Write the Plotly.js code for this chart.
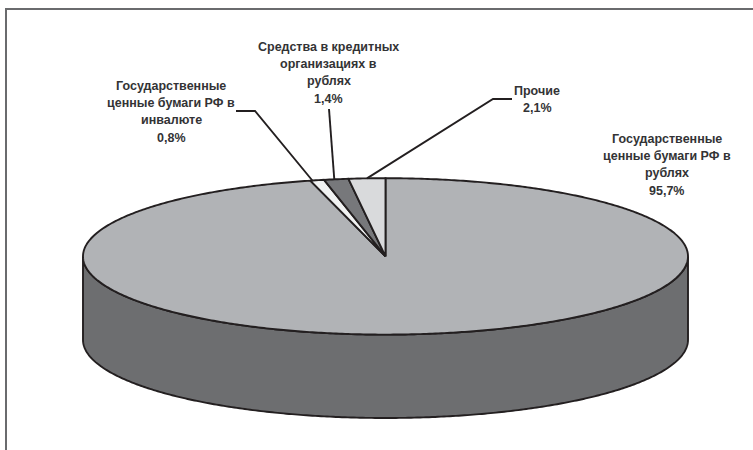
<!DOCTYPE html>
<html><head><meta charset="utf-8">
<script src="https://cdn.plot.ly/plotly-3.0.1.min.js"></script>
<style>html,body{margin:0;padding:0;background:#fff}#c{width:753px;height:450px}</style>
</head><body><div id="c"></div>
<script>
// Data, clockwise from 12 o'clock
const categories = ['Государственные ценные бумаги РФ в рублях','Государственные ценные бумаги РФ в инвалюте','Средства в кредитных организациях в рублях','Прочие'];
const shares = [95.7, 0.8, 1.4, 2.1];
const shareLabels = ['95,7%','0,8%','1,4%','2,1%'];
const labelLines = [
  ['Государственные','ценные бумаги РФ в','рублях'],
  ['Государственные','ценные бумаги РФ в','инвалюте'],
  ['Средства в кредитных','организациях в','рублях'],
  ['Прочие']
];
const sliceColors = ['#b1b3b6','#f1f2f2','#77787b','#d9dadc'];
const wallColor = '#6d6e70', ink = '#231f20', textInk = '#333335';

// Geometry of the tilted disc (axes are laid out in page pixels)
const cx = 385.5, cy = 256.4, rx = 302.5, ry = 78.2, depth = 83.4;
const foreshorten = 0.93;            // perspective squeeze of the narrow far slices
const rim = a => [cx + rx*Math.sin(a), cy - ry*Math.cos(a)];

// slice boundaries: small slices run backwards from 12 o'clock
const small = shares.slice(1);
const total = shares.reduce((a,b)=>a+b,0);
const toAngle = s => s/total*2*Math.PI*foreshorten;
let bounds = [], acc = 0;
for (let i = small.length-1; i >= 0; i--) { const a0 = -acc; acc += toAngle(small[i]); bounds[i+1] = [-acc, a0]; }
bounds[0] = [0, 2*Math.PI - acc];

function arc(a0,a1){ const n = Math.max(2,Math.ceil(Math.abs(a1-a0)/0.01)); const p=[]; for(let i=0;i<=n;i++){p.push(rim(a0+(a1-a0)*i/n));} return p; }
const traces = [];
function poly(pts,fill,w){ traces.push({type:'scatter',mode:'lines',x:pts.map(p=>p[0]),y:pts.map(p=>p[1]),fill:fill?'toself':'none',fillcolor:fill||undefined,line:{color:ink,width:w,simplify:false,shape:'linear'},hoverinfo:'skip',showlegend:false}); }

// wall: front half of rim, dropped by depth
const front = arc(Math.PI/2, 3*Math.PI/2);
const wall = front.concat(front.slice().reverse().map(p=>[p[0],p[1]+depth]));
wall.push(front[0]);
poly(wall, wallColor, 1.9);
// top slices
bounds.forEach((b,i)=>{ const pts=[[cx,cy]].concat(arc(b[0],b[1])); pts.push([cx,cy]); poly(pts, sliceColors[i], 1.9); });

// leaders: [start, elbow] set by layout; ends land on the rim of their slice
const leaderPath = {1:[[236,111],[255,111]], 2:[[329,109]], 3:[[512,99],[493,99]]};
const leaderFrac = {1:0.85, 2:0.58, 3:0.5};
Object.keys(leaderPath).forEach(k=>{
  const b=bounds[k]; const end=rim(b[0]+(b[1]-b[0])*(1-leaderFrac[k]));
  poly(leaderPath[k].concat([end]), null, 1.9);
});

// labels, one annotation per line so the spacing matches
const labelAnchor = [[666.5,138.7],[171,85.6],[328.5,46.8],[537,90.6]];
const lineStep = 17.3;
const annotations = [];
labelLines.forEach((lines,i)=>{
  lines.concat([shareLabels[i]]).forEach((t,j)=>{
    annotations.push({x:labelAnchor[i][0],y:labelAnchor[i][1]+j*lineStep,xref:'x',yref:'y',text:'<b>'+t+'</b>',showarrow:false,xanchor:'center',yanchor:'middle',font:{family:'Liberation Sans, Arial, sans-serif',size:12.5,color:textInk}});
  });
});

const layout = {
  width:753,height:450,margin:{l:0,r:0,t:0,b:0},paper_bgcolor:'#fff',plot_bgcolor:'#fff',showlegend:false,
  xaxis:{range:[0,753],visible:false,fixedrange:true},
  yaxis:{range:[450,0],visible:false,fixedrange:true},
  annotations,
  shapes:[{type:'path',path:'M 6 450 L 6 9 L 753 9',xref:'x',yref:'y',line:{color:'#6a6b6d',width:2}}]
};
Plotly.newPlot('c',traces,layout,{displayModeBar:false,staticPlot:true});
</script></body></html>
